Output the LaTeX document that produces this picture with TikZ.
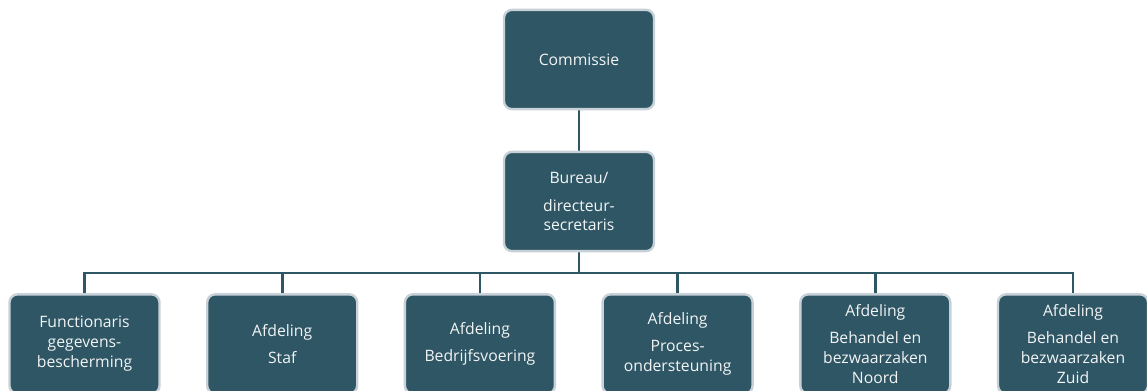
\documentclass[tikz,border=0pt]{standalone}
\usepackage{fontspec}
\setmainfont{Open Sans}
\usetikzlibrary{backgrounds}
\definecolor{boxfill}{HTML}{2F5664}
\definecolor{boxedge}{HTML}{C9D1D8}
\definecolor{boxtext}{HTML}{F2F4F5}
\begin{document}
\begin{tikzpicture}[x=0.75pt,y=-0.75pt,
  box/.style={draw=boxedge, line width=1.8pt, fill=boxfill, rounded corners=6pt,
    minimum width=112.5pt, minimum height=74.5pt, text=boxtext, align=center,
    font=\fontsize{11.8}{15}\selectfont, inner sep=0pt},
  conn/.style={draw=boxfill, line width=2pt}]
\useasboundingbox (0,0) rectangle (1147,390);
\node[box] (com) at (579,59.5) {Commissie};
\node[box, font=\fontsize{11.8}{14}\selectfont] (bur) at (579,201.5) {Bureau/\\[7pt]directeur-\\secretaris};
\node[box] (b1) at (84.5,344) {Functionaris\\gegevens-\\bescherming};
\node[box] (b2) at (282.2,344) {Afdeling\\[5pt]Staf};
\node[box] (b3) at (479.9,344) {Afdeling\\[5pt]Bedrijfsvoering};
\node[box] (b4) at (677.6,344) {Afdeling\\[5pt]Proces-\\ondersteuning};
\node[box] (b5) at (875.3,344) {Afdeling\\[5pt]Behandel en\\bezwaarzaken\\Noord};
\node[box] (b6) at (1073,344) {Afdeling\\[5pt]Behandel en\\bezwaarzaken\\Zuid};
\coordinate (bus) at (579,273);
\begin{scope}[on background layer]
\draw[conn] (com.south) -- (bur.north);
\draw[conn] (bur.south) -- (bus);
\draw[conn] (b1.north) |- (bus) -| (b6.north);
\foreach \b in {b2,b3,b4,b5} \draw[conn] (\b.north) -- (\b.north |- bus);
\end{scope}
\end{tikzpicture}
\end{document}
